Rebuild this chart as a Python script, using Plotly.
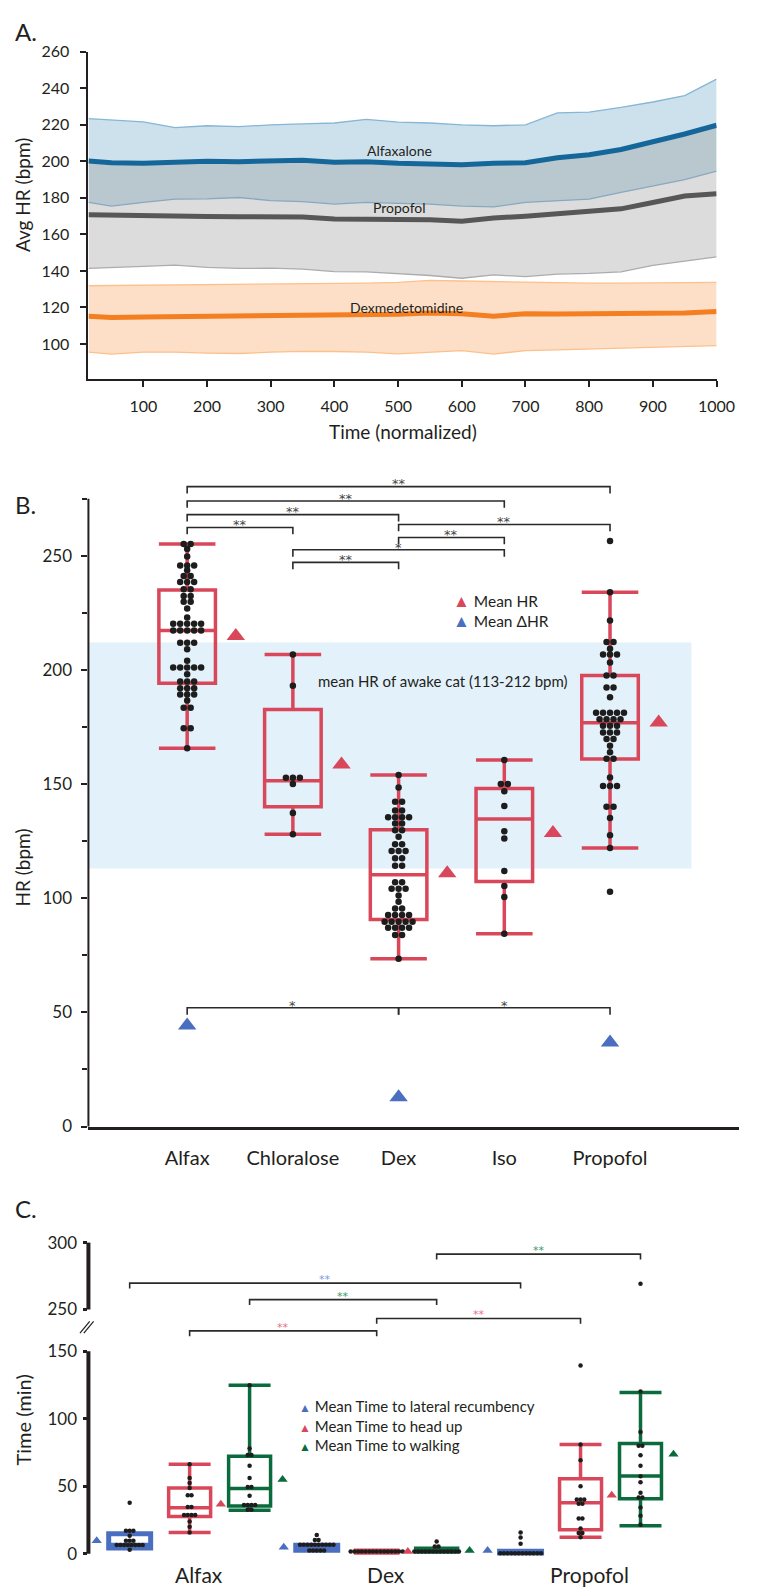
import plotly.graph_objects as go

W, H = 758, 1595
FONT = "Lato, 'Liberation Sans', sans-serif"
STARFONT = "'DejaVu Sans', sans-serif"
INK = "#231f20"

# ---------------- Panel A data ----------------
time_pts = [14, 50, 100, 150, 200, 250, 300, 350, 400, 450, 500, 550, 600, 650, 700, 750, 800, 850, 900, 950, 1000]
alfax_mean = [200.2, 199.3, 199.0, 199.5, 200.0, 199.8, 200.4, 200.6, 199.5, 199.8, 199.0, 198.5, 198.2, 199.0, 199.2, 202.0, 203.6, 206.5, 210.5, 215.0, 219.8]
alfax_upper = [223.4, 222.5, 221.6, 218.5, 219.5, 219.0, 220.0, 220.5, 221.0, 223.0, 221.5, 221.0, 220.0, 219.5, 220.0, 226.5, 227.0, 229.5, 232.5, 236.0, 245.0]
alfax_lower = [177.5, 175.5, 177.5, 179.3, 179.5, 180.2, 178.5, 178.0, 176.6, 177.5, 177.0, 176.6, 175.5, 175.1, 177.5, 178.5, 179.3, 183.0, 186.5, 190.0, 194.6]
prop_mean = [170.8, 170.5, 170.0, 170.0, 169.8, 169.7, 169.7, 169.5, 168.5, 168.5, 168.5, 168.0, 167.2, 169.0, 170.0, 171.5, 172.5, 174.0, 177.5, 181.0, 182.3]
prop_upper = [200.0, 199.5, 199.5, 199.5, 199.5, 199.5, 199.5, 199.8, 199.5, 199.5, 199.0, 198.8, 198.5, 199.5, 200.0, 202.0, 203.5, 206.5, 210.5, 214.5, 218.5]
prop_lower = [141.4, 142.0, 142.5, 143.2, 142.0, 141.4, 141.5, 141.0, 139.6, 139.5, 138.7, 137.5, 136.0, 137.8, 136.9, 138.3, 138.7, 139.5, 143.0, 145.5, 147.7]
dex_mean = [115.2, 114.5, 114.8, 115.0, 115.2, 115.5, 115.3, 115.5, 116.0, 116.0, 116.3, 117.0, 116.5, 115.2, 116.6, 116.4, 116.4, 116.6, 116.8, 117.0, 117.8]
dex_upper = [131.9, 132.0, 132.2, 132.4, 132.4, 132.5, 132.6, 132.8, 133.0, 133.3, 133.7, 134.8, 134.5, 134.2, 133.7, 133.5, 133.3, 133.3, 133.5, 133.6, 133.7]
dex_lower = [95.5, 94.5, 95.5, 95.5, 95.0, 94.8, 95.5, 96.0, 95.9, 95.5, 94.6, 95.5, 96.4, 94.5, 96.4, 96.8, 97.2, 97.7, 98.2, 98.7, 99.1]
a_names = ["Alfaxalone", "Propofol", "Dexmedetomidine"]

# ---------------- Panel B data ----------------
b_cats = ["Alfax", "Chloralose", "Dex", "Iso", "Propofol"]
b_q1 = [194.2, 140.1, 90.7, 107.3, 161.0]
b_med = [217.3, 151.4, 110.3, 134.7, 176.9]
b_q3 = [235.0, 182.7, 130.0, 148.1, 197.5]
b_low = [165.7, 128.0, 73.5, 84.4, 122.0]
b_high = [255.2, 206.7, 154.0, 160.5, 234.0]
b_mean_hr = [214.8, 158.6, 110.9, 128.6, 177.0]
b_mean_dhr = [44.3, None, 12.8, None, 36.8]
b_alfax = [255.2, 255.2, 253.0, 249.7, 245.7, 245.7, 245.7, 243.7, 241.1, 241.1, 238.5, 238.5, 238.5,
           235.3, 235.3, 232.4, 232.4, 229.8, 229.8, 226.9, 223.0, 220.2, 220.2, 220.2, 220.2, 220.2,
           217.3, 217.3, 217.3, 217.3, 217.3, 211.9, 211.9, 211.9, 209.1, 204.0, 201.0, 201.0, 201.0,
           201.0, 201.0, 198.1, 194.9, 194.9, 194.9, 192.0, 192.0, 192.0, 189.2, 189.2, 189.2, 186.6,
           183.4, 183.4, 174.5, 174.5, 165.7]
b_chlor = [206.7, 193.1, 152.8, 152.8, 152.8, 150.0, 137.3, 128.0]
b_dex = [154.0, 148.5, 142.3, 142.3, 138.4, 138.4, 135.5, 135.5, 135.5, 135.5, 132.7, 132.7, 129.8,
         129.8, 126.9, 123.6, 123.6, 120.7, 120.7, 120.7, 117.5, 117.5, 114.2, 114.2, 107.0, 107.0,
         104.1, 104.1, 104.1, 101.2, 98.4, 95.5, 95.5, 92.6, 92.6, 92.6, 92.6, 89.7, 89.7, 89.7, 89.7,
         89.7, 87.1, 87.1, 87.1, 87.1, 83.9, 83.9, 73.5]
b_iso = [160.5, 150.0, 150.0, 146.9, 140.4, 129.3, 126.2, 111.9, 105.3, 100.5, 84.4]
b_prop = [256.5, 234.0, 221.6, 212.2, 212.2, 209.3, 206.7, 206.7, 206.7, 203.2, 197.5, 197.5, 192.3,
          192.3, 188.0, 181.2, 181.2, 181.2, 181.2, 181.2, 178.4, 178.4, 178.4, 178.4, 175.5, 175.5,
          175.5, 172.6, 172.6, 172.6, 169.7, 169.7, 166.8, 163.9, 161.1, 161.1, 152.9, 149.2, 149.2,
          149.2, 140.1, 140.1, 135.1, 127.6, 122.0, 102.8]
b_points = [b_alfax, b_chlor, b_dex, b_iso, b_prop]
awake_range = [113, 212]
# (from, to, bracket level, label)
b_sig = [("Alfax", "Propofol", 280.3, "**"), ("Alfax", "Iso", 274.0, "**"), ("Alfax", "Dex", 268.0, "**"),
         ("Alfax", "Chloralose", 262.4, "**"), ("Dex", "Propofol", 263.7, "**"), ("Dex", "Iso", 258.0, "**"),
         ("Chloralose", "Iso", 252.6, "*"), ("Chloralose", "Dex", 247.1, "**"),
         ("Alfax", "Dex", 52.0, "*"), ("Dex", "Propofol", 52.0, "*")]

# ---------------- Panel C data ----------------
c_groups = ["Alfax", "Dex", "Propofol"]
c_measures = ["lateral recumbency", "head up", "walking"]
c_q1 = {"lateral recumbency": [4.2, 2.5, 0.6], "head up": [27.5, 0.5, 17.8], "walking": [35.3, 1.2, 40.7]}
c_med = {"lateral recumbency": [6.3, 4.0, 0.6], "head up": [34.1, 1.5, 37.8], "walking": [48.3, 1.7, 57.5]}
c_q3 = {"lateral recumbency": [14.8, 6.2, 1.9], "head up": [48.7, 2.5, 55.6], "walking": [72.2, 4.1, 81.6]}
c_low = {"lateral recumbency": [4.2, 2.5, 0.6], "head up": [15.8, 0.5, 12.2], "walking": [32.2, 1.2, 20.7]}
c_high = {"lateral recumbency": [14.8, 6.2, 1.9], "head up": [66.3, 2.5, 80.9], "walking": [124.8, 4.1, 119.5]}
c_mean = {"lateral recumbency": [9.7, 4.8, 2.4], "head up": [36.6, 1.7, 43.4], "walking": [54.9, 2.4, 73.6]}
c_points = {
    "lateral recumbency": [
        [37.8, 17.0, 17.0, 17.0, 13.4, 9.7, 9.7, 9.7, 6.5, 6.5, 6.5, 6.5, 6.5, 6.5, 6.5, 6.5, 2.9],
        [13.9, 10.2, 10.2, 6.6, 6.6, 6.6, 6.6, 6.6, 6.6, 6.6, 6.6, 6.6, 6.6, 2.4, 2.4, 2.4, 2.4, 2.4],
        [15.8, 12.1, 7.3, 0.4, 0.4, 0.4, 0.4, 0.4, 0.4, 0.4, 0.4, 0.4, 0.4, 0.4, 0.4]],
    "head up": [
        [66.3, 56.0, 52.4, 48.7, 43.4, 43.4, 34.6, 34.6, 28.7, 28.7, 28.7, 28.7, 23.9, 20.0, 15.8],
        [1.7] * 15,
        [139.4, 80.9, 69.2, 50.0, 40.2, 40.2, 40.2, 37.0, 37.0, 26.0, 26.0, 18.7, 15.3, 15.3, 12.2]],
    "walking": [
        [124.8, 78.0, 73.2, 73.2, 65.1, 56.0, 49.5, 49.5, 42.9, 36.1, 36.1, 36.1, 36.1, 32.6, 32.6],
        [9.0, 5.3, 5.3, 1.7, 1.7, 1.7, 1.7, 1.7, 1.7, 1.7, 1.7, 1.7, 1.7, 1.7, 1.7, 1.7],
        [269.2, 120.1, 90.2, 80.0, 80.0, 73.0, 65.2, 57.4, 53.0, 45.2, 41.6, 41.6, 34.2, 28.1, 21.5]],
}
# (measure, from group, to group, bracket level, label)
c_sig = [("walking", "Dex", "Propofol", 291.4, "**"), ("lateral recumbency", "Alfax", "Propofol", 269.7, "**"),
         ("walking", "Alfax", "Dex", 257.4, "**"), ("head up", "Dex", "Propofol", 243.3, "**"),
         ("head up", "Alfax", "Dex", 234.0, "**")]

# ---------------- styles ----------------
RED = "#d8485a"
BLUE = "#4a6fc0"
GREEN = "#0b6b3c"
c_colors = {"lateral recumbency": BLUE, "head up": RED, "walking": GREEN}
c_star_colors = {"lateral recumbency": "#7b9be2", "head up": "#ea7283", "walking": "#3a9a6a"}
c_linew = {"lateral recumbency": 5, "head up": 3.5, "walking": 3.5}
c_fill = {"lateral recumbency": ["white", BLUE, BLUE], "head up": ["white", RED, "white"],
          "walking": ["white", GREEN, "white"]}
c_offset = {"lateral recumbency": -1, "head up": 0, "walking": 1}
c_mean_off = {"lateral recumbency": -0.55, "head up": 0.52, "walking": 0.55}
c_group_pos = [0.0, 3.12, 6.52]


def px(x):
    return x / W


def py(y):
    return 1 - y / H


def to_paper(v, dom, rng):
    return dom[0] + (v - rng[0]) / (rng[1] - rng[0]) * (dom[1] - dom[0])


def swarm(values, center, step):
    counts = {}
    for v in values:
        counts[v] = counts.get(v, 0) + 1
    seen, xs = {}, []
    for v in values:
        n = counts[v]
        i = seen.get(v, 0)
        seen[v] = i + 1
        xs.append(center + (i - (n - 1) / 2) * step)
    return xs


fig = go.Figure()

# ---------------- Panel A traces ----------------
bands = [(alfax_upper, alfax_lower, "#86b6d6", "rgba(144,188,215,0.45)"),
         (prop_upper, prop_lower, "#acacac", "rgba(138,138,138,0.30)"),
         (dex_upper, dex_lower, "#fcc08c", "rgba(248,150,70,0.30)")]
for up, lo, edge, fill in bands:
    fig.add_trace(go.Scatter(x=time_pts, y=up, mode="lines", line=dict(color=edge, width=1.3),
                             xaxis="x", yaxis="y", hoverinfo="skip"))
    fig.add_trace(go.Scatter(x=time_pts, y=lo, mode="lines", line=dict(color=edge, width=1.3),
                             fill="tonexty", fillcolor=fill, xaxis="x", yaxis="y", hoverinfo="skip"))
for ys, col in [(alfax_mean, "#15679a"), (prop_mean, "#575757"), (dex_mean, "#f47f20")]:
    fig.add_trace(go.Scatter(x=time_pts, y=ys, mode="lines", line=dict(color=col, width=5),
                             xaxis="x", yaxis="y", hoverinfo="skip"))

# ---------------- Panel B traces ----------------
b_x = list(range(len(b_cats)))
fig.add_trace(go.Box(x=b_x, q1=b_q1, median=b_med, q3=b_q3, lowerfence=b_low, upperfence=b_high,
                     width=0.535, whiskerwidth=1, line=dict(color=RED, width=3.5),
                     fillcolor="rgba(0,0,0,0)", boxpoints=False, orientation="v",
                     xaxis="x2", yaxis="y2", hoverinfo="skip"))
for i, pts in enumerate(b_points):
    fig.add_trace(go.Scatter(x=swarm(pts, b_x[i], 0.066), y=pts, mode="markers",
                             marker=dict(color="#1d1d1d", size=6.5), xaxis="x2", yaxis="y2",
                             hoverinfo="skip", cliponaxis=False))
fig.add_trace(go.Scatter(x=[v + 0.46 for v in b_x], y=b_mean_hr, mode="markers",
                         marker=dict(symbol="triangle-up", size=16, color=RED),
                         xaxis="x2", yaxis="y2", hoverinfo="skip", cliponaxis=False))
fig.add_trace(go.Scatter(x=b_x, y=b_mean_dhr, mode="markers",
                         marker=dict(symbol="triangle-up", size=16, color=BLUE),
                         xaxis="x2", yaxis="y2", hoverinfo="skip", cliponaxis=False))

# ---------------- Panel C traces ----------------
for m in c_measures:
    for gi in range(len(c_groups)):
        fig.add_trace(go.Box(x=[c_group_pos[gi] + c_offset[m]], q1=[c_q1[m][gi]], median=[c_med[m][gi]],
                             q3=[c_q3[m][gi]], lowerfence=[c_low[m][gi]], upperfence=[c_high[m][gi]],
                             width=0.7, whiskerwidth=1, line=dict(color=c_colors[m], width=c_linew[m]),
                             fillcolor=c_fill[m][gi], boxpoints=False, orientation="v",
                             xaxis="x3", yaxis="y3", hoverinfo="skip"))
for m in c_measures:
    for gi, pts in enumerate(c_points[m]):
        cx = c_group_pos[gi] + c_offset[m]
        xs = swarm(pts, cx, 0.062)
        lo = [(x, v) for x, v in zip(xs, pts) if v < 200]
        hi = [(x, v) for x, v in zip(xs, pts) if v >= 200]
        if lo:
            fig.add_trace(go.Scatter(x=[a for a, _ in lo], y=[b for _, b in lo], mode="markers",
                                     marker=dict(color="#1d1d1d", size=4.5), xaxis="x3", yaxis="y3",
                                     hoverinfo="skip", cliponaxis=False))
        if hi:
            fig.add_trace(go.Scatter(x=[a for a, _ in hi], y=[b for _, b in hi], mode="markers",
                                     marker=dict(color="#1d1d1d", size=4.5), xaxis="x4", yaxis="y4",
                                     hoverinfo="skip", cliponaxis=False))
for m in c_measures:
    xs = [g + c_offset[m] + c_mean_off[m] for g in c_group_pos]
    fig.add_trace(go.Scatter(x=xs, y=c_mean[m], mode="markers",
                             marker=dict(symbol="triangle-up", size=9, color=c_colors[m]),
                             xaxis="x3", yaxis="y3", hoverinfo="skip", cliponaxis=False))

# ---------------- axes geometry ----------------
A_xdom, A_ydom = [px(90.7), px(735)], [py(373.2), py(42.3)]
A_xr, A_yr = [13.8, 1000], [81.1, 260]
B_xdom, B_ydom = [px(90.7), 1.0], [py(1130.7), py(460.2)]
B_xr, B_yr = [-0.934, 5.22], [0, 290]
C_xdom = [px(90.7), 1.0]
C_xr = [-1.688, 9.163]
CL_ydom, CL_yr = [py(1568.8), py(1351.4)], [-4, 155]
CU_ydom, CU_yr = [py(1345), py(1240)], [228.6, 306.1]

tickfont16 = dict(family=FONT, size=16, color=INK)
common = dict(showgrid=False, zeroline=False, linecolor=INK, tickcolor=INK)

fig.update_layout(
    width=W, height=H, margin=dict(l=0, r=0, t=0, b=0),
    paper_bgcolor="white", plot_bgcolor="rgba(0,0,0,0)", showlegend=False,
    font=dict(family=FONT, color=INK),
    xaxis=dict(domain=A_xdom, anchor="y", range=A_xr, tick0=0, dtick=100, showline=True, linewidth=2,
               ticks="outside", ticklen=6, tickwidth=2, tickfont=tickfont16, ticklabelstandoff=6, **common),
    yaxis=dict(domain=A_ydom, anchor="x", range=A_yr, tick0=0, dtick=20, showline=True, linewidth=2,
               ticks="outside", ticklen=6, tickwidth=2, tickfont=tickfont16, ticklabelstandoff=8, **common),
    xaxis2=dict(domain=B_xdom, anchor="y2", range=B_xr, tickvals=b_x, ticktext=b_cats, showline=True,
                linewidth=2.5, ticks="", tickfont=dict(family=FONT, size=20, color=INK),
                ticklabelstandoff=12, **common),
    yaxis2=dict(domain=B_ydom, anchor="x2", range=B_yr, tickvals=[0, 50, 100, 150, 200, 250],
                showline=False, ticks="outside", ticklen=6, tickwidth=2,
                tickfont=dict(family=FONT, size=17, color=INK), ticklabelstandoff=6,
                minor=dict(tickvals=[25, 75, 125, 175, 225, 275], ticks="outside", ticklen=5,
                           tickwidth=2, tickcolor=INK), **common),
    xaxis3=dict(domain=C_xdom, anchor="y3", range=C_xr, tickvals=[g + 0.15 for g in c_group_pos],
                ticktext=c_groups, showline=False, ticks="",
                tickfont=dict(family=FONT, size=21, color=INK), ticklabelstandoff=2, **common),
    yaxis3=dict(domain=CL_ydom, anchor="x3", range=CL_yr, tickvals=[0, 50, 100, 150], showline=False,
                ticks="outside", ticklen=4, tickwidth=3, tickfont=dict(family=FONT, size=17, color=INK),
                ticklabelstandoff=3, **common),
    xaxis4=dict(domain=C_xdom, anchor="y4", matches="x3", range=C_xr, visible=False, **common),
    yaxis4=dict(domain=CU_ydom, anchor="x4", range=CU_yr, tickvals=[250, 300], showline=False,
                ticks="outside", ticklen=4, tickwidth=3, tickfont=dict(family=FONT, size=17, color=INK),
                ticklabelstandoff=3, **common),
)

shapes = []
# hand-drawn axis lines (partial spans)
shapes.append(dict(type="line", xref="paper", yref="paper", x0=B_xdom[0], x1=B_xdom[0],
                   y0=to_paper(0, B_ydom, B_yr), y1=to_paper(275, B_ydom, B_yr), line=dict(color=INK, width=2)))
shapes.append(dict(type="line", xref="paper", yref="paper", x0=C_xdom[0], x1=C_xdom[0],
                   y0=to_paper(0, CL_ydom, CL_yr), y1=to_paper(150, CL_ydom, CL_yr), line=dict(color=INK, width=4)))
shapes.append(dict(type="line", xref="paper", yref="paper", x0=C_xdom[0], x1=C_xdom[0],
                   y0=to_paper(250, CU_ydom, CU_yr), y1=to_paper(300, CU_ydom, CU_yr), line=dict(color=INK, width=4)))
# axis break marks
for dx in (0, 4):
    shapes.append(dict(type="line", xref="paper", yref="paper", x0=px(82 + dx), y0=py(1340),
                       x1=px(92 + dx), y1=py(1328), line=dict(color=INK, width=1.2)))
# awake HR band
shapes.append(dict(type="rect", xref="x2", yref="y2", x0=B_xr[0], x1=4.77, y0=awake_range[0], y1=awake_range[1],
                   fillcolor="#e3f1fb", line=dict(width=0), layer="below"))
annotations = []
# B brackets
for a, b, lvl, lab in b_sig:
    x0, x1 = b_cats.index(a), b_cats.index(b)
    shapes.append(dict(type="path", xref="x2", yref="y2",
                       path=f"M {x0},{lvl - 3} L {x0},{lvl} L {x1},{lvl} L {x1},{lvl - 3}",
                       line=dict(color="#2a2a2a", width=1.6)))
    annotations.append(dict(xref="x2", yref="y2", x=(x0 + x1) / 2, y=lvl + 1.2, text=lab, showarrow=False,
                            yanchor="middle", font=dict(family=STARFONT, size=13, color="#444444")))
# C brackets
for m, a, b, lvl, lab in c_sig:
    x0 = c_group_pos[c_groups.index(a)] + c_offset[m]
    x1 = c_group_pos[c_groups.index(b)] + c_offset[m]
    shapes.append(dict(type="path", xref="x4", yref="y4",
                       path=f"M {x0},{lvl - 4} L {x0},{lvl} L {x1},{lvl} L {x1},{lvl - 4}",
                       line=dict(color="#2a2a2a", width=1.6)))
    annotations.append(dict(xref="x4", yref="y4", x=(x0 + x1) / 2, y=lvl + 2.6, text=lab, showarrow=False,
                            yanchor="middle", font=dict(family=STARFONT, size=11, color=c_star_colors[m])))

# Panel A series labels
for name, tx, ty in zip(a_names, [502, 502, 513], [206, 174.8, 119.8]):
    annotations.append(dict(xref="x", yref="y", x=tx, y=ty, text=name, showarrow=False,
                            font=dict(family=FONT, size=14, color=INK)))
# B band text
annotations.append(dict(xref="x2", yref="y2", x=2.42, y=195, text="mean HR of awake cat (113-212 bpm)",
                        showarrow=False, font=dict(family=FONT, size=15, color=INK)))


def ptext(x, y, text, size, angle=0, xanchor="center", align="center"):
    annotations.append(dict(xref="paper", yref="paper", x=px(x), y=py(y), text=text, showarrow=False,
                            textangle=angle, xanchor=xanchor, yanchor="middle", align=align, borderpad=0,
                            font=dict(family=FONT, size=size, color=INK)))


ptext(14, 22, "A.", 24, xanchor="left")
ptext(14, 501, "B.", 24, xanchor="left")
ptext(14, 1214, "C.", 24, xanchor="left")
ptext(22.5, 187.5, "Avg HR (bpm)", 19, angle=-90)
ptext(413, 427, "Time (normalized)", 19)
ptext(23, 868, "HR (bpm)", 19, angle=-90)
ptext(24, 1428, "Time (min)", 20, angle=-90)
# legends
ptext(464, 598, f'<span style="color:{RED};font-size:17px">▲</span> Mean HR', 15.5, xanchor="left")
ptext(464, 618, f'<span style="color:{BLUE};font-size:17px">▲</span> Mean ΔHR', 15.5, xanchor="left")
leg_c = "<br>".join(f'<span style="color:{c_colors[m]};font-size:12px">▲</span> Mean Time to {m}'
                    for m in c_measures)
ptext(306, 1433, leg_c, 15, xanchor="left", align="left")

fig.update_layout(shapes=shapes, annotations=annotations)
fig.write_html("out.html", config={"displayModeBar": False},
               post_script="document.body.style.margin='0';")
